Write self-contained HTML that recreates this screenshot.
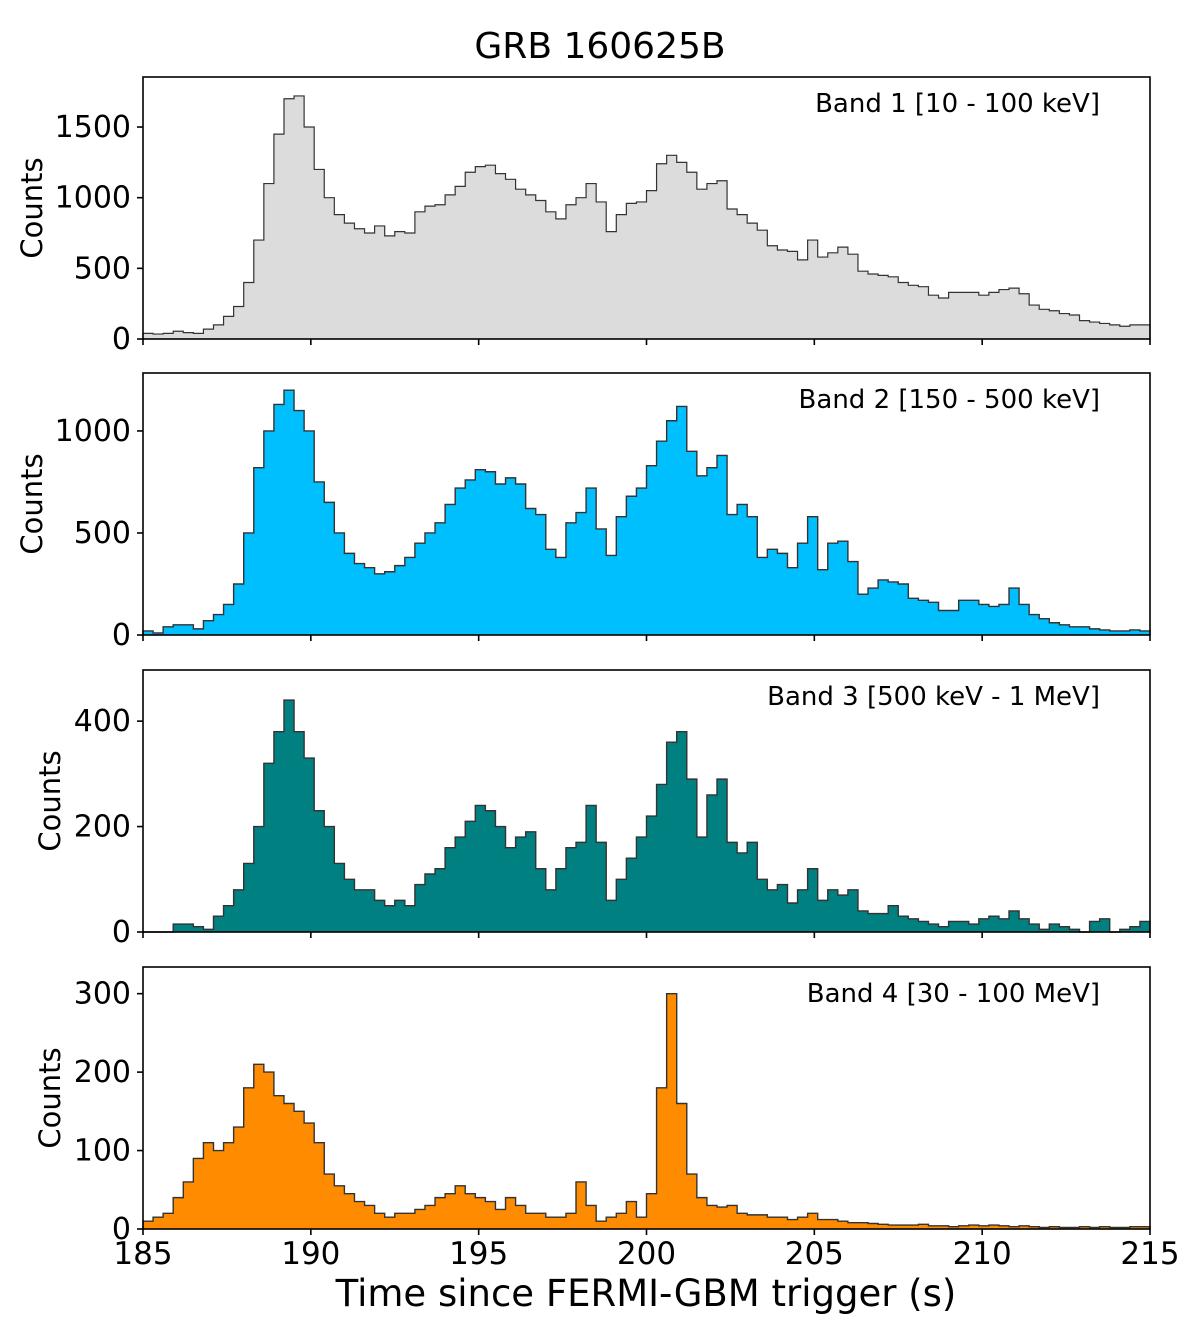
<!DOCTYPE html>
<html><head><meta charset="utf-8"><style>
html,body{margin:0;padding:0;background:#fff;}
svg{display:block;font-family:"DejaVu Sans","Liberation Sans",sans-serif;}
</style></head><body>
<svg id="chart" width="1200" height="1333" viewBox="0 0 1200 1333" xmlns="http://www.w3.org/2000/svg">
<text x="600" y="58" text-anchor="middle" font-size="36">GRB 160625B</text>
<text x="646" y="1306" text-anchor="middle" font-size="37">Time since FERMI-GBM trigger (s)</text>
</svg>
<script>
const binStart = 185;
const binWidth = 0.3;
const xTicks = [185,190,195,200,205,210,215];
const band1 = [40,35,40,55,45,40,70,100,160,230,400,700,1100,1450,1700,1720,1500,1200,1000,880,820,780,750,800,730,760,750,900,940,950,1020,1080,1180,1220,1230,1170,1130,1060,1020,980,900,850,950,1000,1100,970,760,880,960,970,1050,1240,1300,1250,1180,1060,1100,1120,920,880,820,770,660,630,620,560,700,580,610,650,600,480,460,450,440,400,380,370,310,290,330,330,330,310,330,350,360,320,240,210,200,180,170,130,120,110,100,90,100,100];
const band2 = [20,10,40,50,50,30,70,100,150,250,500,820,1000,1130,1200,1100,1000,750,650,500,400,350,330,300,310,340,380,450,500,550,640,720,760,810,800,740,770,740,620,590,420,380,550,600,720,520,390,580,680,720,830,950,1050,1120,900,780,820,880,590,640,580,380,420,400,330,450,580,320,450,460,360,200,230,270,260,250,180,170,160,120,120,170,170,150,140,150,230,150,100,80,60,50,40,40,30,25,20,20,25,20];
const band3 = [0,0,0,15,15,10,5,30,50,80,130,200,320,380,440,380,330,230,200,130,100,80,80,60,50,60,50,90,110,120,160,180,210,240,230,200,160,180,190,120,80,120,160,170,240,170,60,100,140,180,220,280,360,380,290,180,260,290,170,150,170,100,80,90,55,80,120,60,80,70,80,40,35,35,50,30,25,20,15,10,20,20,15,25,30,25,40,25,15,5,15,10,5,0,20,25,0,5,10,20];
const band4 = [10,15,20,40,60,90,110,100,110,130,180,210,200,170,160,150,135,110,70,55,45,35,30,20,15,20,20,25,30,40,45,55,45,40,35,25,40,30,20,20,15,15,20,60,30,10,15,20,35,15,45,180,300,160,70,40,30,28,30,20,18,18,15,15,12,15,20,12,12,10,8,8,7,6,5,5,5,6,4,4,3,4,5,4,5,4,3,4,3,2,3,2,2,3,2,3,2,2,3,3];
const band1Ticks = [0,500,1000,1500];
const band2Ticks = [0,500,1000];
const band3Ticks = [0,200,400];
const band4Ticks = [0,100,200,300];
const bandLabels = ["Band 1 [10 - 100 keV]","Band 2 [150 - 500 keV]","Band 3 [500 keV - 1 MeV]","Band 4 [30 - 100 MeV]"];

const NS="http://www.w3.org/2000/svg";
const svg=document.getElementById('chart');
const X0=143,X1=1150,T0=185,T1=215;
function xs(t){return X0+(t-T0)/(T1-T0)*(X1-X0);}
function mk(tag,attrs,parent){const e=document.createElementNS(NS,tag);for(const k in attrs)e.setAttribute(k,attrs[k]);(parent||svg).appendChild(e);return e;}

const panels=[
 {data:band1,ticks:band1Ticks,top:77,bot:339,ymax:1854,fill:"#dcdcdc",lw:1.2,ylabX:42,name:"band-1"},
 {data:band2,ticks:band2Ticks,top:373,bot:635,ymax:1284,fill:"#00bfff",lw:1.4,ylabX:42,name:"band-2"},
 {data:band3,ticks:band3Ticks,top:670,bot:932,ymax:497,fill:"#008080",lw:1.4,ylabX:60,name:"band-3"},
 {data:band4,ticks:band4Ticks,top:967,bot:1229,ymax:334,fill:"#ff8c00",lw:1.4,ylabX:60,name:"band-4"}
];
panels.forEach((p,pi)=>{
  const g=mk('g',{});
  
  
  const ys=v=>p.bot-v/p.ymax*(p.bot-p.top);
  let d='M'+xs(binStart)+','+p.bot;
  p.data.forEach((v,i)=>{
    const a=xs(binStart+i*binWidth),b=xs(binStart+(i+1)*binWidth),y=ys(v);
    d+=' L'+a.toFixed(2)+','+y.toFixed(2)+' L'+b.toFixed(2)+','+y.toFixed(2);
  });
  d+=' L'+xs(binStart+p.data.length*binWidth).toFixed(2)+','+p.bot;
  const hist=mk('path',{d:d,fill:p.fill,stroke:'#333','stroke-width':p.lw,'stroke-linejoin':'miter'},g);
  
  
  const frame=mk('rect',{x:X0,y:p.top,width:X1-X0,height:p.bot-p.top,fill:'none',stroke:'#000','stroke-width':1.6},g);
  
  
  p.ticks.forEach(v=>{
    const y=ys(v);
    mk('line',{x1:X0-6,x2:X0,y1:y,y2:y,stroke:'#000','stroke-width':1.6},g);
    const t=mk('text',{x:X0-12,y:y+10,'text-anchor':'end','font-size':30},g);
    t.textContent=v;
    
    
  });
  xTicks.forEach(v=>{
    const x=xs(v);
    mk('line',{x1:x,x2:x,y1:p.bot,y2:p.bot+6,stroke:'#000','stroke-width':1.6},g);
    if(pi===3){
      const t=mk('text',{x:x,y:p.bot+35,'text-anchor':'middle','font-size':31},g);
      t.textContent=v;
      
      
    }
  });
  const yl=mk('text',{x:0,y:0,'text-anchor':'middle','font-size':29,transform:'translate('+p.ylabX+','+((p.top+p.bot)/2)+') rotate(-90)'},g);
  yl.textContent='Counts';
  
  
  const bl=mk('text',{x:1100,y:p.top+35,'text-anchor':'end','font-size':26},g);
  bl.textContent=bandLabels[pi];
  
  
});
</script>
</body></html>
